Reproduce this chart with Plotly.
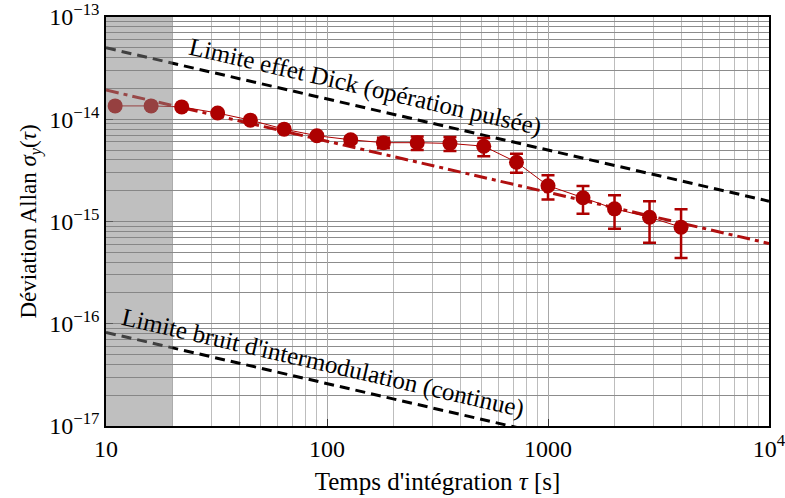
import numpy as np
import plotly.graph_objects as go

# Allan deviation measurements
tau = [11, 16, 22, 32, 45, 64, 90, 128, 180, 256, 360, 512, 720, 1000, 1440, 2000, 2880, 4000]
sigma = [1.35e-14, 1.35e-14, 1.32e-14, 1.15e-14, 0.98e-14, 8.0e-15, 6.9e-15, 6.3e-15, 5.9e-15,
         5.9e-15, 5.8e-15, 5.45e-15, 3.8e-15, 2.24e-15, 1.71e-15, 1.33e-15, 1.10e-15, 8.8e-16]
sigma_err = [0.2e-15, 0.2e-15, 0.2e-15, 0.2e-15, 0.2e-15, 0.3e-15, 0.3e-15, 0.4e-15, 0.7e-15,
             0.9e-15, 0.9e-15, 1.1e-15, 0.8e-15, 0.6e-15, 0.52e-15, 0.48e-15, 0.48e-15, 0.44e-15]

# white-frequency-noise levels, sigma = coef / sqrt(tau)
fit_coef = 6.1e-14
dick_coef = 1.58e-13
intermod_coef = 2.6e-16
tau_span = [10, 1e4]

# integration times excluded from the fit
excluded_tau = 20

x_tickvals = [10, 100, 1000, 1e4]
x_ticktext = ["10", "100", "1000", "10<sup>4</sup>"]
y_tickvals = [1e-17, 1e-16, 1e-15, 1e-14, 1e-13]
y_ticktext = ["10<sup>−17</sup>", "10<sup>−16</sup>", "10<sup>−15</sup>", "10<sup>−14</sup>", "10<sup>−13</sup>"]

RED = "#ad0000"
SERIF = "Liberation Serif"

def white_noise(coef, t):
    t = np.asarray(t, dtype=float)
    return coef / np.sqrt(t)

fig = go.Figure()

fig.add_trace(go.Scatter(
    x=tau_span, y=white_noise(dick_coef, tau_span), mode="lines",
    line=dict(color="black", width=3, dash="10px,6px"), hoverinfo="skip"))
fig.add_trace(go.Scatter(
    x=tau_span, y=white_noise(intermod_coef, tau_span), mode="lines",
    line=dict(color="black", width=3, dash="10px,6px"), hoverinfo="skip"))
fig.add_trace(go.Scatter(
    x=tau_span, y=white_noise(fit_coef, tau_span), mode="lines",
    line=dict(color="#b01010", width=3, dash="13px,5px,4px,5px"), hoverinfo="skip"))

fig.add_trace(go.Scatter(
    x=tau, y=sigma, mode="lines+markers",
    line=dict(color=RED, width=1),
    marker=dict(color=RED, size=15, line=dict(width=0)),
    error_y=dict(type="data", array=sigma_err, color=RED, thickness=2.5, width=6.5)))

# shaded dead-time region
x_lo, x_hi = np.log10(x_tickvals[0]), np.log10(x_tickvals[-1])
fig.add_shape(type="rect", xref="paper", yref="paper",
              x0=0, x1=(np.log10(excluded_tau) - x_lo) / (x_hi - x_lo), y0=0, y1=1,
              fillcolor="#808080", opacity=0.5, line=dict(width=0), layer="above")

fig.add_annotation(x=2.172, y=-13.684, xref="x", yref="y", showarrow=False,
                   text="Limite effet Dick (opération pulsée)", textangle=13,
                   font=dict(family=SERIF, size=25, color="black"))
fig.add_annotation(x=1.982, y=-16.38, xref="x", yref="y", showarrow=False,
                   text="Limite bruit d'intermodulation (continue)", textangle=13,
                   font=dict(family=SERIF, size=25, color="black"))

axis_common = dict(type="log", showline=True, linecolor="black", linewidth=1.5, mirror=True,
                   ticks="inside", ticklen=7, tickcolor="#333333", tickwidth=1,
                   showgrid=True, gridwidth=1, zeroline=False, automargin=False,
                   ticklabeloverflow="allow",
                   tickfont=dict(family=SERIF, size=24, color="black"))

fig.update_xaxes(**axis_common, range=[x_lo, x_hi], tickvals=x_tickvals, ticktext=x_ticktext,
                 gridcolor="#a8a8a8",
                 minor=dict(dtick="D1", showgrid=True, gridcolor="#bdbdbd", ticks=""),
                 title=dict(text="Temps d'intégration <i>τ</i> [s]",
                            font=dict(family=SERIF, size=25, color="black"), standoff=12))
fig.update_yaxes(**axis_common, range=[-17, -13], tickvals=y_tickvals, ticktext=y_ticktext,
                 gridcolor="#8c8c8c",
                 minor=dict(dtick="D1", showgrid=True, gridcolor="#8c8c8c", ticks=""),
                 title=dict(text="Déviation Allan <i>σ</i><sub><i>y</i></sub>(<i>τ</i>)",
                            font=dict(family=SERIF, size=23, color="black"), standoff=6))

fig.update_layout(width=785, height=498, showlegend=False,
                  margin=dict(l=106, r=16, t=17, b=72),
                  paper_bgcolor="white", plot_bgcolor="white")

fig.write_html("out.html")
